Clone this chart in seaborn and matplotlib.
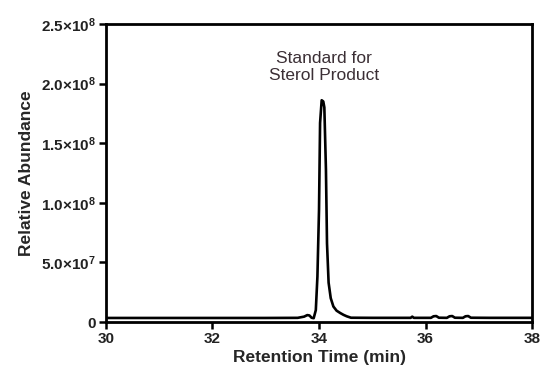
import matplotlib
matplotlib.use("Agg")
import matplotlib.pyplot as plt
import seaborn as sns
import pandas as pd

# Chromatogram trace: retention time (min) and relative abundance
retention_time = [30.0, 31.0, 32.0, 33.0, 33.6, 33.72, 33.78, 33.82, 33.86, 33.9, 33.94,
                  33.97, 34.0, 34.02, 34.05, 34.08, 34.10, 34.13, 34.15, 34.18, 34.22,
                  34.27, 34.33, 34.40, 34.46, 34.52, 34.6, 35.0, 35.5, 35.72, 35.75, 35.78,
                  36.1, 36.15, 36.2, 36.25, 36.4, 36.45, 36.5, 36.55, 36.7, 36.75, 36.8,
                  36.85, 37.2, 37.6, 38.0]
abundance = [3.4e6, 3.4e6, 3.4e6, 3.4e6, 3.5e6, 4.5e6, 5.8e6, 5.5e6, 3.6e6, 3.2e6, 1.0e7,
             3.8e7, 9.4e7, 1.67e8, 1.86e8, 1.85e8, 1.80e8, 1.28e8, 6.6e7, 3.3e7, 2.0e7,
             1.3e7, 9.5e6, 7.5e6, 6.0e6, 4.8e6, 3.6e6, 3.5e6, 3.5e6, 3.5e6, 4.5e6, 3.5e6,
             3.5e6, 4.8e6, 5.0e6, 3.6e6, 3.5e6, 4.8e6, 5.0e6, 3.6e6, 3.5e6, 4.8e6, 5.0e6,
             3.6e6, 3.5e6, 3.5e6, 3.5e6]

x_ticks = [30, 32, 34, 36, 38]
y_ticks = [0, 5.0e7, 1.0e8, 1.5e8, 2.0e8, 2.5e8]
y_tick_labels = ["0", r"5.0$\times$10$^{7}$", r"1.0$\times$10$^{8}$",
                 r"1.5$\times$10$^{8}$", r"2.0$\times$10$^{8}$", r"2.5$\times$10$^{8}$"]
peak_label = "Standard for\nSterol Product"

sns.set_theme(style="ticks")
plt.rcParams["font.family"] = ["Liberation Sans", "DejaVu Sans"]
plt.rcParams["mathtext.fontset"] = "custom"
plt.rcParams["mathtext.rm"] = "Liberation Sans:bold"
plt.rcParams["mathtext.it"] = "Liberation Sans:bold"
plt.rcParams["mathtext.bf"] = "Liberation Sans:bold"

fig = plt.figure(figsize=(5.43, 3.74), dpi=100)
ax = fig.add_axes([0.195, 0.139, 0.785, 0.797])

df = pd.DataFrame({"t": retention_time, "a": abundance})
sns.lineplot(data=df, x="t", y="a", ax=ax, color="black", linewidth=1.9)

ax.set_xlim(30, 38)
ax.set_ylim(0, 2.5e8)
ax.set_xticks(x_ticks)
ax.set_xticklabels([str(v) for v in x_ticks])
ax.set_yticks(y_ticks)
ax.set_yticklabels(y_tick_labels)

for side in ["left", "right", "top", "bottom"]:
    ax.spines[side].set_visible(True)
    ax.spines[side].set_linewidth(2.0)
    ax.spines[side].set_color("black")

ax.tick_params(axis="both", direction="out", length=5, width=1.8, colors="black",
               labelsize=11, pad=2)
for lab in ax.get_xticklabels() + ax.get_yticklabels():
    lab.set_fontweight("bold")
    lab.set_color("#222222")

ax.set_xlabel("Retention Time (min)", fontsize=12.5, fontweight="bold", labelpad=3)
ax.set_ylabel("Relative Abundance", fontsize=12.5, fontweight="bold", labelpad=5)

ax.text(34.1, 2.14e8, peak_label, ha="center", va="center", fontsize=12.5,
        color="#3b2f35", linespacing=1.2)

fig.savefig("out.png", dpi=100)
